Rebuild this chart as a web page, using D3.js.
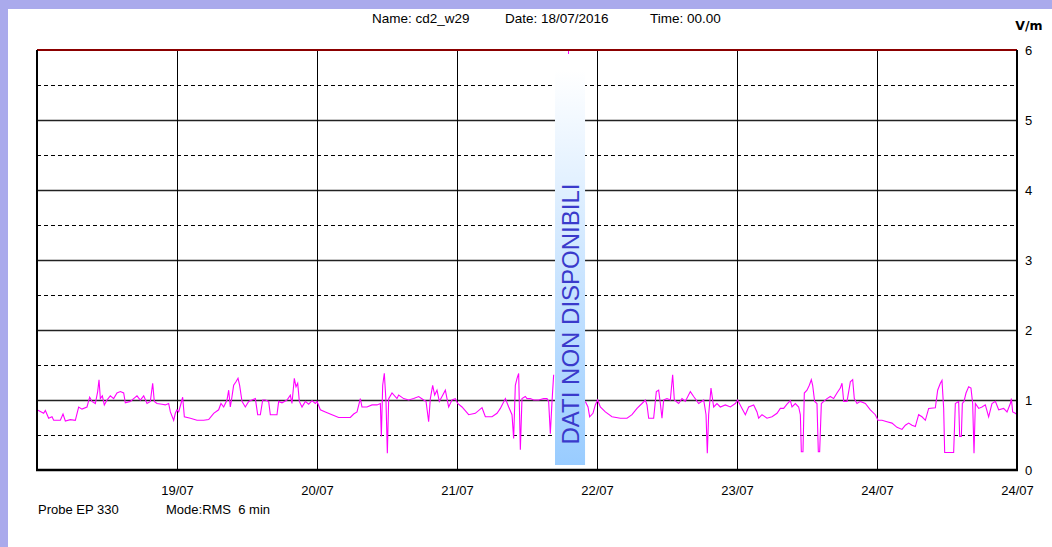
<!DOCTYPE html>
<html>
<head>
<meta charset="utf-8">
<script src="https://cdn.jsdelivr.net/npm/d3@7"></script>
<style>
  html, body { margin: 0; padding: 0; background: #aaaaec; }
  svg { display: block; }
</style>
</head>
<body>
<svg id="chart" width="1052" height="547"></svg>
<script>
// ---- data (hours since 18/07/2016 00:00, field strength V/m) ----
const hours = [
  0,1.14,1.43,2.0,2.57,2.86,4.0,4.46,4.86,5.71,6.57,7.14,7.71,8.57,9.03,9.43,10.0,10.4,10.63,10.86,
  11.2,11.54,12.0,12.57,13.14,13.71,14.29,14.86,15.14,16.0,16.57,17.14,17.71,18.29,18.86,19.43,19.83,20.11,20.57,21.43,
  22.0,22.57,22.86,23.43,23.71,24.0,24.29,24.69,24.97,25.26,26.29,27.43,28.57,29.43,30.29,31.14,31.54,32.0,32.57,32.86,
  33.14,33.43,33.71,34.11,34.46,34.74,35.14,35.71,36.29,36.86,37.43,37.83,38.29,38.69,39.14,39.71,40.0,41.14,41.43,42.0,
  42.86,43.43,43.71,44.11,44.4,44.69,44.97,45.43,46.0,46.57,47.14,47.71,48.0,48.57,49.43,50.57,51.71,53.71,54.29,54.86,
  55.43,55.71,56.57,57.43,58.29,58.86,59.03,59.26,59.54,59.83,60.06,60.29,60.86,61.71,62.0,62.86,63.71,64.57,65.43,66.29,
  66.69,67.14,67.43,67.83,68.17,68.57,68.97,69.43,70.0,70.57,71.14,71.71,72.11,72.86,74.0,75.14,76.29,76.86,78.0,78.86,
  79.43,80.29,80.86,81.43,81.71,82.0,82.29,82.57,82.86,83.14,83.71,84.0,84.57,85.14,86.0,86.86,87.43,87.71,88.0,88.29,
  88.57,
  91.0,
  94.0,94.46,94.74,95.31,95.71,96.11,96.57,97.43,98.57,100.0,101.14,102.0,102.86,103.71,104.29,104.57,104.86,105.71,106.17,
  106.57,106.86,107.14,107.43,108.0,108.57,108.97,109.26,110.0,110.57,111.14,112.0,112.57,113.43,114.29,114.69,114.91,115.14,115.54,116.0,
  116.57,117.14,118.0,118.86,119.71,120.11,120.86,121.43,122.0,122.86,123.43,123.71,124.29,125.14,126.0,126.86,127.43,128.0,128.57,129.14,
  129.43,130.0,130.57,130.86,131.03,131.31,131.54,132.0,132.4,132.74,132.97,133.31,133.71,133.94,134.17,134.46,134.86,135.43,136.0,136.57,
  137.14,137.71,138.0,138.29,138.86,139.43,139.83,140.11,140.57,141.14,142.0,142.86,143.71,144.17,144.86,145.71,146.57,147.43,148.29,148.86,
  149.43,150.0,150.57,151.14,151.71,152.29,152.86,154.0,154.4,154.86,155.14,155.43,155.6,157.14,157.43,158.0,158.17,158.46,158.63,158.91,
  159.26,159.71,160.11,160.4,160.63,160.86,161.43,162.0,162.57,163.14,163.71,164.29,164.86,165.71,166.29,166.86,167.03,167.26,167.71,168.0
];
const values = [
  0.86,0.81,0.85,0.74,0.76,0.71,0.71,0.80,0.70,0.72,0.71,0.90,0.87,0.90,1.04,0.98,0.95,1.12,1.29,1.02,
  1.06,0.93,1.00,1.06,1.02,1.10,1.12,1.10,0.96,0.98,1.02,1.06,1.00,1.06,0.95,0.98,1.24,0.98,0.95,0.94,
  0.93,0.95,0.83,0.71,0.81,0.86,0.83,0.95,1.04,0.76,0.74,0.71,0.71,0.72,0.81,0.86,0.95,0.90,1.00,1.14,
  0.90,1.05,1.21,1.26,1.31,1.21,0.98,0.90,0.98,1.00,1.02,0.79,0.79,1.00,1.00,0.98,0.79,0.79,0.98,0.96,
  1.00,1.07,0.95,1.31,1.19,1.24,0.98,0.90,0.98,0.94,0.99,0.95,0.98,0.86,0.83,0.79,0.75,0.75,0.80,0.83,
  1.02,0.90,0.90,0.93,0.93,0.95,0.48,1.21,1.38,0.98,0.24,1.02,1.10,1.02,1.07,1.02,1.00,1.02,1.05,1.00,
  0.98,0.69,1.02,1.21,1.07,1.14,0.98,1.05,1.14,0.90,1.00,1.02,0.95,0.90,0.79,0.81,0.89,0.76,0.76,0.81,
  0.88,1.02,0.90,0.79,0.45,1.21,1.31,1.38,0.29,1.02,1.05,1.02,1.02,1.00,1.00,1.02,1.02,0.98,0.52,0.98,
  1.36,
  null,
  0.98,0.90,0.76,0.81,0.93,1.00,0.90,0.83,0.76,0.74,0.74,0.79,0.88,0.95,1.00,0.93,0.74,0.74,1.12,
  1.14,0.95,0.74,1.00,1.02,1.00,1.36,1.00,0.95,1.02,0.98,1.12,1.05,0.95,1.00,0.79,0.24,0.79,1.17,0.90,
  0.95,0.90,0.93,0.90,0.95,1.00,0.88,0.79,0.90,0.93,0.83,0.74,0.79,0.74,0.76,0.81,0.88,0.88,0.94,0.99,
  0.90,0.95,0.90,0.79,0.26,0.26,1.10,1.14,1.21,1.29,1.21,0.98,0.95,0.26,0.26,0.95,0.98,1.02,1.05,1.02,
  1.10,1.17,1.24,0.98,0.98,1.26,1.29,1.02,0.95,0.98,0.95,0.86,0.79,0.71,0.71,0.69,0.67,0.61,0.58,0.64,
  0.67,0.64,0.62,0.79,0.76,0.71,0.88,0.89,1.14,1.24,1.28,0.88,0.25,0.25,0.95,0.98,0.48,0.48,0.95,0.98,
  1.10,1.19,1.17,0.95,0.24,0.95,0.88,0.90,0.93,0.76,0.95,0.98,0.86,0.88,0.83,0.95,1.02,0.83,0.81,0.79
];
const gapStart = 88.8, gapEnd = 93.95;   // "dati non disponibili" band
const offScaleTick = [91.0];             // tiny mark at chart top
const xTickHours = [24, 48, 72, 96, 120, 144, 168];
const xTickLabels = ["19/07", "20/07", "21/07", "22/07", "23/07", "24/07", "24/07"];
const yTicks = [0, 1, 2, 3, 4, 5, 6];
const yHalfTicks = [0.5, 1.5, 2.5, 3.5, 4.5, 5.5];
const headerParts = ["Name: cd2_w29", "Date: 18/07/2016", "Time: 00.00"];
const footerParts = ["Probe EP 330", "Mode:RMS  6 min"];

// ---- layout ----
const svg = d3.select("#chart");
const L = 37, R = 1017, T = 50, B = 470;
const x = d3.scaleLinear().domain([0, 168]).range([L, R]);
const y = d3.scaleLinear().domain([0, 6]).range([B, T]);
const font = "'Liberation Sans', Arial, sans-serif";

svg.append("rect").attr("x", 8).attr("y", 9).attr("width", 1044).attr("height", 538).attr("fill", "#fff");

// gradient for band
const defs = svg.append("defs");
const grad = defs.append("linearGradient").attr("id", "bandGrad").attr("x1", 0).attr("y1", 0).attr("x2", 0).attr("y2", 1);
grad.append("stop").attr("offset", "0%").attr("stop-color", "#ffffff");
grad.append("stop").attr("offset", "100%").attr("stop-color", "#99ccff");

// horizontal dashed half lines
svg.append("g").selectAll("line").data(yHalfTicks).join("line")
  .attr("x1", L).attr("x2", R).attr("y1", d => Math.round(y(d)) + 0.5).attr("y2", d => Math.round(y(d)) + 0.5)
  .attr("stroke", "#000").attr("stroke-width", 1.2).attr("stroke-dasharray", "4,3");

// horizontal solid integer lines
svg.append("g").selectAll("line").data(yTicks.filter(d => d > 0 && d < 6)).join("line")
  .attr("x1", L).attr("x2", R).attr("y1", d => Math.round(y(d)) + 0.5).attr("y2", d => Math.round(y(d)) + 0.5)
  .attr("stroke", "#222").attr("stroke-width", 1.4);

// vertical day lines
svg.append("g").selectAll("line").data(xTickHours.slice(0, -1)).join("line")
  .attr("x1", d => Math.round(x(d)) + 0.5).attr("x2", d => Math.round(x(d)) + 0.5).attr("y1", T).attr("y2", B)
  .attr("stroke", "#000").attr("stroke-width", 1);

// data line
const pts = hours.map((h, i) => [h, values[i]]);
svg.append("path").datum(pts)
  .attr("fill", "none").attr("stroke", "#ff00ff").attr("stroke-width", 1.1)
  .attr("d", d3.line().defined(d => d[1] !== null).x(d => x(d[0])).y(d => y(d[1]))(pts));

// tiny off-scale mark
svg.append("g").selectAll("line").data(offScaleTick).join("line")
  .attr("x1", d => Math.round(x(d)) + 0.5).attr("x2", d => Math.round(x(d)) + 0.5)
  .attr("y1", T).attr("y2", T + 4).attr("stroke", "#ff00ff").attr("stroke-width", 1);

// missing-data band
const bx0 = x(gapStart), bx1 = x(gapEnd);
svg.append("rect").attr("x", bx0).attr("y", 70).attr("width", bx1 - bx0).attr("height", 395)
  .attr("fill", "url(#bandGrad)");
svg.append("text")
  .attr("transform", `translate(${(bx0 + bx1) / 2 + 8.5},${314}) rotate(-90)`)
  .attr("text-anchor", "middle")
  .attr("font-family", font).attr("font-size", 24).attr("fill", "#3a3acb")
  .text("DATI NON DISPONIBILI");

// frame
svg.append("line").attr("x1", L).attr("x2", R).attr("y1", T).attr("y2", T).attr("stroke", "#8b0000").attr("stroke-width", 2);
svg.append("line").attr("x1", L).attr("x2", L).attr("y1", T).attr("y2", B + 1).attr("stroke", "#000").attr("stroke-width", 2);
svg.append("line").attr("x1", R).attr("x2", R).attr("y1", T).attr("y2", B + 1).attr("stroke", "#000").attr("stroke-width", 2);
svg.append("line").attr("x1", L - 1).attr("x2", R + 1).attr("y1", B).attr("y2", B).attr("stroke", "#000").attr("stroke-width", 2.5);

// right y-axis labels
const yAxis = d3.axisRight(y).tickValues(yTicks).tickSize(0).tickPadding(0).tickFormat(d3.format("d"));
const gy = svg.append("g").attr("transform", `translate(${R + 8},0)`).call(yAxis);
gy.select(".domain").remove();
gy.selectAll("text").attr("font-family", font).attr("font-size", 13).attr("fill", "#000").attr("dy", "0.32em");

// bottom x-axis labels
const xAxis = d3.axisBottom(x).tickValues(xTickHours).tickSize(0).tickPadding(0)
  .tickFormat((d, i) => xTickLabels[i]);
const gx = svg.append("g").attr("transform", `translate(0,${B + 16})`).call(xAxis);
gx.select(".domain").remove();
gx.selectAll("text").attr("font-family", font).attr("font-size", 13).attr("fill", "#000");

// unit
svg.append("text").attr("x", 1029).attr("y", 30).attr("text-anchor", "middle")
  .attr("font-family", "'DejaVu Sans', Verdana, sans-serif").attr("font-weight", "bold").attr("font-size", 12.5)
  .attr("fill", "#000").text("V/m");

// header
const headerX = [372, 505, 650];
svg.append("g").selectAll("text").data(headerParts).join("text")
  .attr("x", (d, i) => headerX[i]).attr("y", 23)
  .attr("font-family", font).attr("font-size", 13.5).attr("fill", "#000").text(d => d);

// footer
const footerX = [38, 166];
svg.append("g").selectAll("text").data(footerParts).join("text")
  .attr("x", (d, i) => footerX[i]).attr("y", 514).attr("xml:space", "preserve").style("white-space", "pre")
  .attr("font-family", font).attr("font-size", 13).attr("fill", "#000").text(d => d);
</script>
</body>
</html>
